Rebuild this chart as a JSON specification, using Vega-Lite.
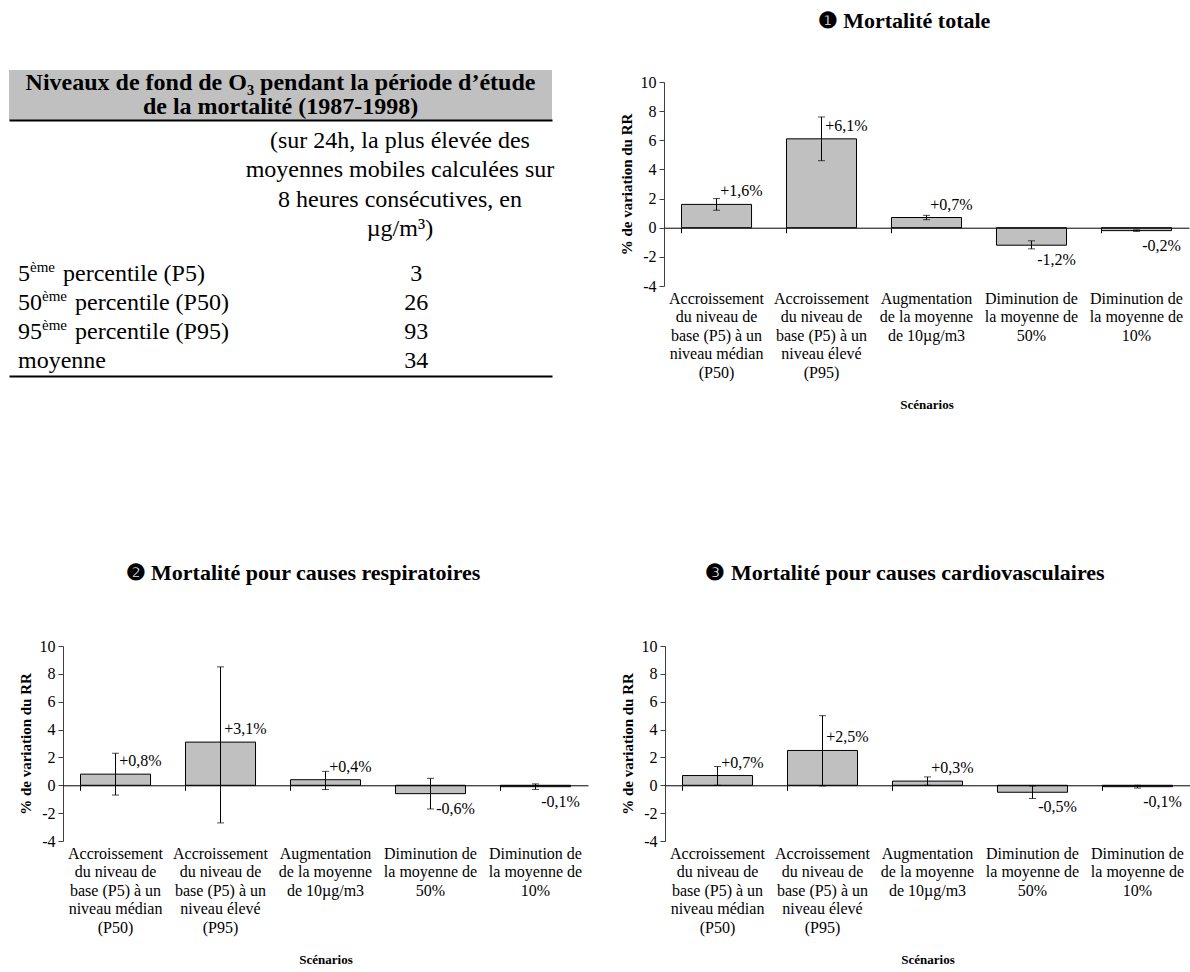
{
  "$schema": "https://vega.github.io/schema/vega-lite/v6.json",
  "background": "white",
  "padding": {"left": 9, "top": 9, "right": 0, "bottom": 0},
  "autosize": {"type": "pad"},
  "config": {
    "view": {"stroke": null},
    "font": "Liberation Serif",
    "text": {"font": "Liberation Serif", "color": "black"},
    "axis": {"labelFont": "Liberation Serif", "titleFont": "Liberation Serif", "labelColor": "black", "titleColor": "black"},
    "title": {"font": "Liberation Serif", "color": "black"}
  },
  "datasets": {
    "totale": [
      {"scenario": "Accroissement\ndu niveau de\nbase (P5) à un\nniveau médian\n(P50)", "value": 1.6, "lo": 1.2, "hi": 2.0, "label": "+1,6%"},
      {"scenario": "Accroissement\ndu niveau de\nbase (P5) à un\nniveau élevé\n(P95)", "value": 6.1, "lo": 4.6, "hi": 7.6, "label": "+6,1%"},
      {"scenario": "Augmentation\nde la moyenne\nde 10µg/m3", "value": 0.7, "lo": 0.55, "hi": 0.85, "label": "+0,7%"},
      {"scenario": "Diminution de\nla moyenne de\n50%", "value": -1.2, "lo": -1.45, "hi": -0.9, "label": "-1,2%"},
      {"scenario": "Diminution de\nla moyenne de\n10%", "value": -0.2, "lo": -0.25, "hi": -0.15, "label": "-0,2%"}
    ],
    "respiratoires": [
      {"scenario": "Accroissement\ndu niveau de\nbase (P5) à un\nniveau médian\n(P50)", "value": 0.8, "lo": -0.7, "hi": 2.3, "label": "+0,8%"},
      {"scenario": "Accroissement\ndu niveau de\nbase (P5) à un\nniveau élevé\n(P95)", "value": 3.1, "lo": -2.7, "hi": 8.5, "label": "+3,1%"},
      {"scenario": "Augmentation\nde la moyenne\nde 10µg/m3", "value": 0.4, "lo": -0.3, "hi": 1.0, "label": "+0,4%"},
      {"scenario": "Diminution de\nla moyenne de\n50%", "value": -0.6, "lo": -1.7, "hi": 0.5, "label": "-0,6%"},
      {"scenario": "Diminution de\nla moyenne de\n10%", "value": -0.1, "lo": -0.3, "hi": 0.1, "label": "-0,1%"}
    ],
    "cardio": [
      {"scenario": "Accroissement\ndu niveau de\nbase (P5) à un\nniveau médian\n(P50)", "value": 0.7, "lo": 0.0, "hi": 1.35, "label": "+0,7%"},
      {"scenario": "Accroissement\ndu niveau de\nbase (P5) à un\nniveau élevé\n(P95)", "value": 2.5, "lo": -0.05, "hi": 5.0, "label": "+2,5%"},
      {"scenario": "Augmentation\nde la moyenne\nde 10µg/m3", "value": 0.3, "lo": 0.0, "hi": 0.6, "label": "+0,3%"},
      {"scenario": "Diminution de\nla moyenne de\n50%", "value": -0.5, "lo": -0.95, "hi": -0.05, "label": "-0,5%"},
      {"scenario": "Diminution de\nla moyenne de\n10%", "value": -0.1, "lo": -0.2, "hi": 0.0, "label": "-0,1%"}
    ],
    "blank": [{"t": ""}]
  },
  "spacing": 151,
  "bounds": "full",
  "vconcat": [
    {
      "spacing": 64,
      "bounds": "full",
      "hconcat": [
        {
          "spacing": 0,
          "bounds": "full",
          "vconcat": [
            {
              "width": 543, "height": 61,
              "data": {"name": "blank"},
              "mark": {"type": "text", "font": "Liberation Serif", "fontSize": 0},
              "encoding": {"text": {"field": "t"}}
            },
            {
              "width": 543, "height": 50,
              "view": {"fill": "#c0c0c0", "stroke": null},
              "data": {"values": [
                {"line": 1, "text": "Niveaux de fond de O₃ pendant la période d’étude"},
                {"line": 2, "text": "de la mortalité (1987-1998)"}
              ]},
              "mark": {"type": "text", "font": "Liberation Serif", "fontSize": 24, "fontWeight": "bold", "align": "center", "baseline": "middle", "color": "black"},
              "encoding": {
                "y": {"field": "line", "type": "ordinal", "scale": {"type": "point", "padding": 0.54}, "axis": null},
                "x": {"datum": 0.5, "type": "quantitative", "scale": {"domain": [0, 1]},
                      "axis": {"orient": "bottom", "domain": true, "domainColor": "black", "domainWidth": 2, "ticks": false, "labels": false, "grid": false, "title": null}},
                "text": {"field": "text"}
              }
            },
            {
              "width": 543, "height": 139,
              "data": {"values": [
                {"line": 1, "text": "(sur 24h, la plus élevée des"},
                {"line": 2, "text": "moyennes mobiles calculées sur"},
                {"line": 3, "text": "8 heures consécutives, en"},
                {"line": 4, "text": "µg/m³)"}
              ]},
              "mark": {"type": "text", "font": "Liberation Serif", "fontSize": 24, "align": "center", "baseline": "middle", "color": "black"},
              "encoding": {
                "y": {"field": "line", "type": "ordinal", "scale": {"type": "point", "padding": 0.87, "align": 0.41}, "axis": null},
                "x": {"datum": 0.72, "type": "quantitative", "scale": {"domain": [0, 1]}, "axis": null},
                "text": {"field": "text"}
              }
            },
            {
              "width": 543, "height": 117,
              "data": {"values": [
                {"line": 1, "num": "5", "sup": "ème", "rest": "percentile (P5)", "val": "3"},
                {"line": 2, "num": "50", "sup": "ème", "rest": "percentile (P50)", "val": "26"},
                {"line": 3, "num": "95", "sup": "ème", "rest": "percentile (P95)", "val": "93"},
                {"line": 4, "num": "moyenne", "sup": "", "rest": "", "val": "34"}
              ]},
              "encoding": {
                "y": {"field": "line", "type": "ordinal", "scale": {"type": "point", "padding": 0.52}, "axis": null}
              },
              "layer": [
                {
                  "mark": {"type": "text", "font": "Liberation Serif", "fontSize": 24, "align": "left", "baseline": "middle", "dx": 9, "color": "black"},
                  "encoding": {
                    "x": {"datum": 0, "type": "quantitative", "scale": {"domain": [0, 1]},
                          "axis": {"orient": "bottom", "domain": true, "domainColor": "black", "domainWidth": 2, "ticks": false, "labels": false, "grid": false, "title": null}},
                    "text": {"field": "num"}
                  }
                },
                {
                  "transform": [{"filter": "length(datum.num) == 1"}],
                  "mark": {"type": "text", "font": "Liberation Serif", "fontSize": 15, "align": "left", "baseline": "middle", "dx": 21, "dy": -7, "color": "black"},
                  "encoding": {"x": {"datum": 0, "type": "quantitative"}, "text": {"field": "sup"}}
                },
                {
                  "transform": [{"filter": "length(datum.num) == 2"}],
                  "mark": {"type": "text", "font": "Liberation Serif", "fontSize": 15, "align": "left", "baseline": "middle", "dx": 33, "dy": -7, "color": "black"},
                  "encoding": {"x": {"datum": 0, "type": "quantitative"}, "text": {"field": "sup"}}
                },
                {
                  "transform": [{"filter": "length(datum.num) == 1"}],
                  "mark": {"type": "text", "font": "Liberation Serif", "fontSize": 24, "align": "left", "baseline": "middle", "dx": 54, "color": "black"},
                  "encoding": {"x": {"datum": 0, "type": "quantitative"}, "text": {"field": "rest"}}
                },
                {
                  "transform": [{"filter": "length(datum.num) == 2"}],
                  "mark": {"type": "text", "font": "Liberation Serif", "fontSize": 24, "align": "left", "baseline": "middle", "dx": 66, "color": "black"},
                  "encoding": {"x": {"datum": 0, "type": "quantitative"}, "text": {"field": "rest"}}
                },
                {
                  "mark": {"type": "text", "font": "Liberation Serif", "fontSize": 24, "align": "center", "baseline": "middle", "color": "black"},
                  "encoding": {"x": {"datum": 0.75, "type": "quantitative"}, "text": {"field": "val"}}
                }
              ]
            }
          ]
        },
        {
          "spacing": 0,
          "bounds": "full",
          "vconcat": [
            {
              "width": 1, "height": 1,
              "data": {"name": "blank"},
              "mark": {"type": "text", "font": "Liberation Serif", "fontSize": 0},
              "encoding": {"text": {"field": "t"}}
            },
            {
              "width": 525, "height": 204,
              "title": {"text": "❶ Mortalité totale", "font": "Liberation Serif", "fontSize": 22, "fontWeight": "bold", "offset": 41, "anchor": "middle", "frame": "bounds", "color": "black"},
              "data": {"name": "totale"},
              "layer": [
                {
                  "mark": {"type": "bar", "fill": "#c0c0c0", "stroke": "black", "strokeWidth": 1},
                  "encoding": {
                    "x": {"field": "scenario", "type": "nominal", "sort": null, "scale": {"paddingInner": 0.333, "paddingOuter": 0.1667},
                          "axis": {"orient": "bottom", "title": "Scénarios", "titleFont": "Liberation Serif", "titleFontSize": 13, "titleFontWeight": "bold", "titlePadding": 18,
                                   "labelFont": "Liberation Serif", "labelAngle": 0, "labelFontSize": 16, "labelLineHeight": 18.5, "labelPadding": 4, "labelLimit": 0, "labelOverlap": false, "labelBound": false,
                                   "labelBaseline": "top", "labelExpr": "split(datum.label, '\\n')", "ticks": false, "domain": false, "grid": false}},
                    "y": {"field": "value", "type": "quantitative", "scale": {"domain": [-4, 10], "nice": false},
                          "axis": {"tickCount": 7, "labelExpr": "'' + datum.value", "labelOverlap": false, "labelBound": false,
                                   "title": "% de variation du RR", "titleFont": "Liberation Serif", "titleFontSize": 15, "titleFontWeight": "bold", "titlePadding": 6,
                                   "labelFont": "Liberation Serif", "labelFontSize": 16, "labelPadding": 3, "tickSize": 5, "tickColor": "#404040", "domainColor": "#404040", "grid": false}}
                  }
                },
                {
                  "mark": {"type": "rule", "color": "black", "strokeWidth": 1},
                  "encoding": {
                    "x": {"field": "scenario", "type": "nominal", "sort": null,
                          "axis": {"orient": "bottom", "offset": -58.29, "labels": false, "title": null, "domain": true, "domainColor": "black", "domainWidth": 1,
                                   "ticks": true, "tickColor": "black", "tickSize": 5, "bandPosition": 0, "grid": false, "zindex": 1}},
                    "y": {"field": "lo", "type": "quantitative"},
                    "y2": {"field": "hi"}
                  }
                },
                {
                  "mark": {"type": "tick", "color": "black", "size": 7, "thickness": 1},
                  "encoding": {"x": {"field": "scenario", "type": "nominal", "sort": null, "axis": null}, "y": {"field": "lo", "type": "quantitative"}}
                },
                {
                  "mark": {"type": "tick", "color": "black", "size": 7, "thickness": 1},
                  "encoding": {"x": {"field": "scenario", "type": "nominal", "sort": null, "axis": null}, "y": {"field": "hi", "type": "quantitative"}}
                },
                {
                  "transform": [{"filter": "datum.value >= 0"}],
                  "mark": {"type": "text", "font": "Liberation Serif", "fontSize": 16, "align": "center", "baseline": "middle", "dx": 25, "dy": -13, "color": "black"},
                  "encoding": {"x": {"field": "scenario", "type": "nominal", "sort": null, "axis": null}, "y": {"field": "value", "type": "quantitative"}, "text": {"field": "label"}}
                },
                {
                  "transform": [{"filter": "datum.value < 0"}],
                  "mark": {"type": "text", "font": "Liberation Serif", "fontSize": 16, "align": "center", "baseline": "middle", "dx": 25, "dy": 15, "color": "black"},
                  "encoding": {"x": {"field": "scenario", "type": "nominal", "sort": null, "axis": null}, "y": {"field": "value", "type": "quantitative"}, "text": {"field": "label"}}
                }
              ],
              "resolve": {"axis": {"x": "independent"}}
            }
          ]
        }
      ]
    },
    {
      "spacing": 0,
      "bounds": "full",
      "hconcat": [
        {
          "width": 9, "height": 1,
          "data": {"name": "blank"},
          "mark": {"type": "text", "font": "Liberation Serif", "fontSize": 0},
          "encoding": {"text": {"field": "t"}}
        },
        {
          "spacing": 32,
          "bounds": "full",
          "hconcat": [
            {
              "width": 525, "height": 195,
              "title": {"text": "❷ Mortalité pour causes respiratoires", "font": "Liberation Serif", "fontSize": 22, "fontWeight": "bold", "offset": 53, "anchor": "middle", "frame": "bounds", "color": "black"},
              "data": {"name": "respiratoires"},
              "layer": [
                {
                  "mark": {"type": "bar", "fill": "#c0c0c0", "stroke": "black", "strokeWidth": 1},
                  "encoding": {
                    "x": {"field": "scenario", "type": "nominal", "sort": null, "scale": {"paddingInner": 0.333, "paddingOuter": 0.1667},
                          "axis": {"orient": "bottom", "title": "Scénarios", "titleFont": "Liberation Serif", "titleFontSize": 13, "titleFontWeight": "bold", "titlePadding": 18,
                                   "labelFont": "Liberation Serif", "labelAngle": 0, "labelFontSize": 16, "labelLineHeight": 18.5, "labelPadding": 4, "labelLimit": 0, "labelOverlap": false, "labelBound": false,
                                   "labelBaseline": "top", "labelExpr": "split(datum.label, '\\n')", "ticks": false, "domain": false, "grid": false}},
                    "y": {"field": "value", "type": "quantitative", "scale": {"domain": [-4, 10], "nice": false},
                          "axis": {"tickCount": 7, "labelExpr": "'' + datum.value", "labelOverlap": false, "labelBound": false,
                                   "title": "% de variation du RR", "titleFont": "Liberation Serif", "titleFontSize": 15, "titleFontWeight": "bold", "titlePadding": 6,
                                   "labelFont": "Liberation Serif", "labelFontSize": 16, "labelPadding": 3, "tickSize": 5, "tickColor": "#404040", "domainColor": "#404040", "grid": false}}
                  }
                },
                {
                  "mark": {"type": "rule", "color": "black", "strokeWidth": 1},
                  "encoding": {
                    "x": {"field": "scenario", "type": "nominal", "sort": null,
                          "axis": {"orient": "bottom", "offset": -55.71, "labels": false, "title": null, "domain": true, "domainColor": "black", "domainWidth": 1,
                                   "ticks": true, "tickColor": "black", "tickSize": 5, "bandPosition": 0, "grid": false, "zindex": 1}},
                    "y": {"field": "lo", "type": "quantitative"},
                    "y2": {"field": "hi"}
                  }
                },
                {
                  "mark": {"type": "tick", "color": "black", "size": 7, "thickness": 1},
                  "encoding": {"x": {"field": "scenario", "type": "nominal", "sort": null, "axis": null}, "y": {"field": "lo", "type": "quantitative"}}
                },
                {
                  "mark": {"type": "tick", "color": "black", "size": 7, "thickness": 1},
                  "encoding": {"x": {"field": "scenario", "type": "nominal", "sort": null, "axis": null}, "y": {"field": "hi", "type": "quantitative"}}
                },
                {
                  "transform": [{"filter": "datum.value >= 0"}],
                  "mark": {"type": "text", "font": "Liberation Serif", "fontSize": 16, "align": "center", "baseline": "middle", "dx": 25, "dy": -13, "color": "black"},
                  "encoding": {"x": {"field": "scenario", "type": "nominal", "sort": null, "axis": null}, "y": {"field": "value", "type": "quantitative"}, "text": {"field": "label"}}
                },
                {
                  "transform": [{"filter": "datum.value < 0"}],
                  "mark": {"type": "text", "font": "Liberation Serif", "fontSize": 16, "align": "center", "baseline": "middle", "dx": 25, "dy": 15, "color": "black"},
                  "encoding": {"x": {"field": "scenario", "type": "nominal", "sort": null, "axis": null}, "y": {"field": "value", "type": "quantitative"}, "text": {"field": "label"}}
                }
              ],
              "resolve": {"axis": {"x": "independent"}}
            },
            {
              "width": 525, "height": 195,
              "title": {"text": "❸ Mortalité pour causes cardiovasculaires", "font": "Liberation Serif", "fontSize": 22, "fontWeight": "bold", "offset": 53, "anchor": "middle", "frame": "bounds", "color": "black"},
              "data": {"name": "cardio"},
              "layer": [
                {
                  "mark": {"type": "bar", "fill": "#c0c0c0", "stroke": "black", "strokeWidth": 1},
                  "encoding": {
                    "x": {"field": "scenario", "type": "nominal", "sort": null, "scale": {"paddingInner": 0.333, "paddingOuter": 0.1667},
                          "axis": {"orient": "bottom", "title": "Scénarios", "titleFont": "Liberation Serif", "titleFontSize": 13, "titleFontWeight": "bold", "titlePadding": 18,
                                   "labelFont": "Liberation Serif", "labelAngle": 0, "labelFontSize": 16, "labelLineHeight": 18.5, "labelPadding": 4, "labelLimit": 0, "labelOverlap": false, "labelBound": false,
                                   "labelBaseline": "top", "labelExpr": "split(datum.label, '\\n')", "ticks": false, "domain": false, "grid": false}},
                    "y": {"field": "value", "type": "quantitative", "scale": {"domain": [-4, 10], "nice": false},
                          "axis": {"tickCount": 7, "labelExpr": "'' + datum.value", "labelOverlap": false, "labelBound": false,
                                   "title": "% de variation du RR", "titleFont": "Liberation Serif", "titleFontSize": 15, "titleFontWeight": "bold", "titlePadding": 6,
                                   "labelFont": "Liberation Serif", "labelFontSize": 16, "labelPadding": 3, "tickSize": 5, "tickColor": "#404040", "domainColor": "#404040", "grid": false}}
                  }
                },
                {
                  "mark": {"type": "rule", "color": "black", "strokeWidth": 1},
                  "encoding": {
                    "x": {"field": "scenario", "type": "nominal", "sort": null,
                          "axis": {"orient": "bottom", "offset": -55.71, "labels": false, "title": null, "domain": true, "domainColor": "black", "domainWidth": 1,
                                   "ticks": true, "tickColor": "black", "tickSize": 5, "bandPosition": 0, "grid": false, "zindex": 1}},
                    "y": {"field": "lo", "type": "quantitative"},
                    "y2": {"field": "hi"}
                  }
                },
                {
                  "mark": {"type": "tick", "color": "black", "size": 7, "thickness": 1},
                  "encoding": {"x": {"field": "scenario", "type": "nominal", "sort": null, "axis": null}, "y": {"field": "lo", "type": "quantitative"}}
                },
                {
                  "mark": {"type": "tick", "color": "black", "size": 7, "thickness": 1},
                  "encoding": {"x": {"field": "scenario", "type": "nominal", "sort": null, "axis": null}, "y": {"field": "hi", "type": "quantitative"}}
                },
                {
                  "transform": [{"filter": "datum.value >= 0"}],
                  "mark": {"type": "text", "font": "Liberation Serif", "fontSize": 16, "align": "center", "baseline": "middle", "dx": 25, "dy": -13, "color": "black"},
                  "encoding": {"x": {"field": "scenario", "type": "nominal", "sort": null, "axis": null}, "y": {"field": "value", "type": "quantitative"}, "text": {"field": "label"}}
                },
                {
                  "transform": [{"filter": "datum.value < 0"}],
                  "mark": {"type": "text", "font": "Liberation Serif", "fontSize": 16, "align": "center", "baseline": "middle", "dx": 25, "dy": 15, "color": "black"},
                  "encoding": {"x": {"field": "scenario", "type": "nominal", "sort": null, "axis": null}, "y": {"field": "value", "type": "quantitative"}, "text": {"field": "label"}}
                }
              ],
              "resolve": {"axis": {"x": "independent"}}
            }
          ]
        }
      ]
    }
  ]
}
